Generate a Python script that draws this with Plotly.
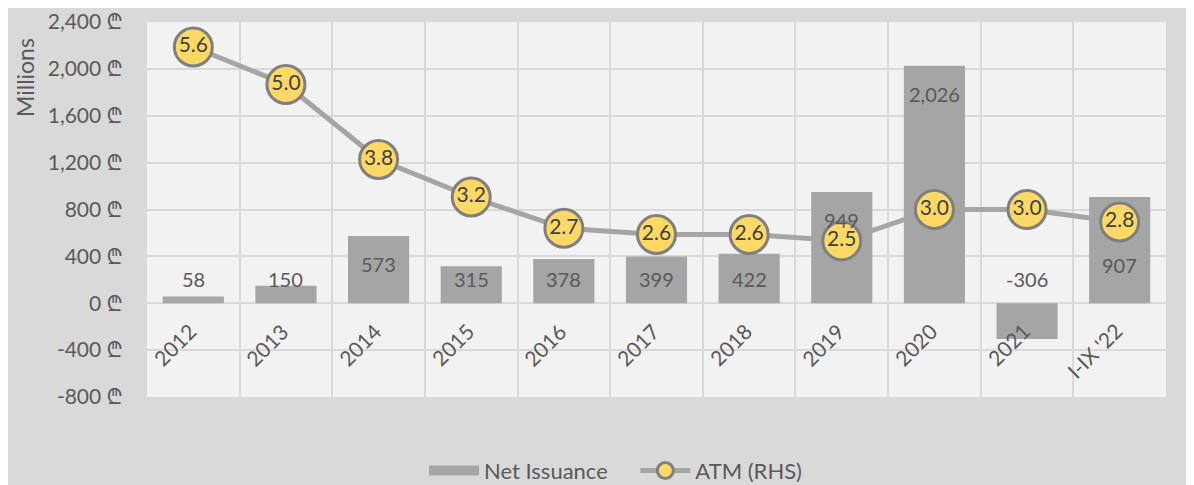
import plotly.graph_objects as go

categories = ["2012", "2013", "2014", "2015", "2016", "2017", "2018", "2019", "2020", "2021", "I-IX '22"]
net_issuance = [58, 150, 573, 315, 378, 399, 422, 949, 2026, -306, 907]
atm = [5.6, 5.0, 3.8, 3.2, 2.7, 2.6, 2.6, 2.5, 3.0, 3.0, 2.8]
left_ticks = [-800, -400, 0, 400, 800, 1200, 1600, 2000, 2400]
right_ticks = [0, 1, 2, 3, 4, 5, 6]

FONT = "Lato, 'Noto Sans', sans-serif"
TXT = "#595959"
BAR = "#a5a5a5"
L_MIN, L_MAX = -800, 2400
R_MIN, R_MAX = 0, 6

W, H = 1186, 477
ML, MR, MT, MB = 139, 28, 14, 88
PW, PH = W - ML - MR, H - MT - MB

fig = go.Figure()
fig.add_trace(go.Bar(
    x=categories, y=net_issuance, name="Net Issuance",
    marker=dict(color=BAR, line=dict(width=0)),
    hoverinfo="x+y", showlegend=False, legendgroup="ni",
))
# legend-only entry to mimic Excel's wide rectangular swatch
fig.add_trace(go.Scatter(
    x=[None], y=[None], name="Net Issuance\u00a0\u00a0\u00a0\u00a0", mode="lines",
    line=dict(color=BAR, width=14), legendgroup="ni", showlegend=True,
))
fig.add_trace(go.Scatter(
    x=categories, y=atm, name="ATM (RHS)", yaxis="y2",
    mode="lines+markers+text",
    line=dict(color=BAR, width=5),
    marker=dict(size=38, color="#ffd966", line=dict(color="#7f7f7f", width=3)),
    text=[f"{v:.1f}" for v in atm], textposition="middle center",
    textfont=dict(family=FONT, size=21, color="#404040"),
))

# bar value labels (Excel-like "inside end", kept clear of ATM markers)
for i, (v, a) in enumerate(zip(net_issuance, atm)):
    ly = max(v - 240, 210)
    a_left = L_MIN + (a - R_MIN) * (L_MAX - L_MIN) / (R_MAX - R_MIN)
    if abs(ly - a_left) < 150:
        ly = a_left - 370
    fig.add_annotation(x=i, y=ly, text=f"{v:,}", showarrow=False,
                       font=dict(family=FONT, size=20, color=TXT),
                       xanchor="center", yanchor="middle")

# category labels rotated next to the zero line
for i, c in enumerate(categories):
    fig.add_annotation(x=i, y=0, text=c, showarrow=False, textangle=-45,
                       xanchor="right", yanchor="top", xshift=10, yshift=-12,
                       font=dict(family=FONT, size=21, color=TXT))

# axis title placed near the top of the axis, as in the original
fig.add_annotation(xref="paper", yref="paper", x=(17 - ML) / PW, y=(H - MB - 70) / PH,
                   text="Millions", textangle=-90, showarrow=False,
                   xanchor="center", yanchor="middle",
                   font=dict(family=FONT, size=23, color=TXT))

fig.update_layout(
    width=W, height=H,
    margin=dict(l=ML, r=MR, t=MT, b=MB),
    paper_bgcolor="#d9d9d9", plot_bgcolor="#f2f2f2",
    font=dict(family=FONT, size=20, color=TXT),
    bargap=0.34,
    showlegend=True,
    legend=dict(orientation="h", xref="container", x=416 / W, xanchor="left",
                yref="container", y=0.03, yanchor="middle",
                font=dict(family=FONT, size=22, color=TXT), bgcolor="rgba(0,0,0,0)",
                itemwidth=50, tracegroupgap=0),
    xaxis=dict(type="category", range=[-0.5, len(categories) - 0.5],
               showticklabels=False, tickson="boundaries", automargin=False,
               showgrid=True, gridcolor="#d9d9d9", gridwidth=2, ticks="",
               showline=False, zeroline=False),
    yaxis=dict(range=[L_MIN, L_MAX], tickvals=left_ticks, automargin=False,
               ticktext=[f"{t:,}\u00a0₾" for t in left_ticks],
               showgrid=True, gridcolor="#d9d9d9", gridwidth=2, zeroline=False,
               ticks="outside", ticklen=19, tickcolor="rgba(0,0,0,0)",
               tickfont=dict(family=FONT, size=21, color=TXT)),
    yaxis2=dict(range=[R_MIN, R_MAX], tickvals=right_ticks, overlaying="y", side="right",
                automargin=False,
                showgrid=False, zeroline=False, ticks="outside", ticklen=22,
                tickcolor="rgba(0,0,0,0)",
                tickfont=dict(family=FONT, size=21, color=TXT)),
)

fig.write_html("out.html")
